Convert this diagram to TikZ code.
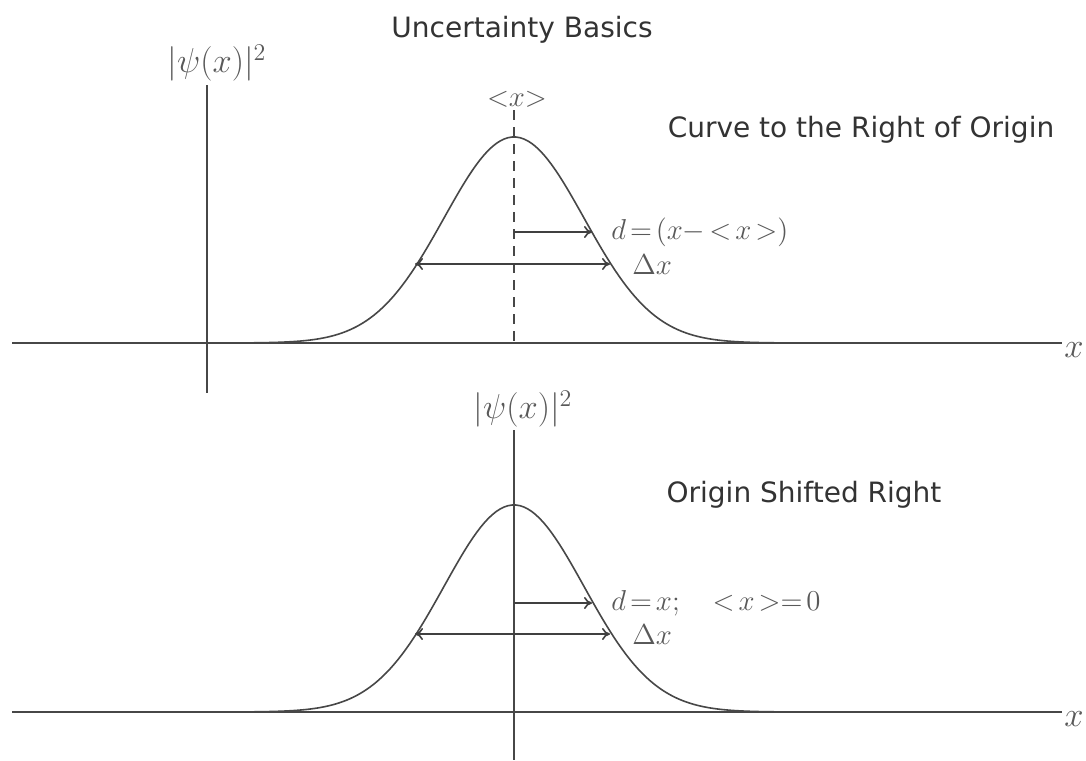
\documentclass[tikz,border=0pt]{standalone}
\usepackage{fontspec}
\setsansfont{DejaVu Sans}
\usetikzlibrary{arrows.meta}
\newcommand{\tightmath}{\thickmuskip=2.5mu\relax\medmuskip=2mu\relax}
\tikzset{
  axisline/.style={draw=black!72, line width=1.1pt},
  curveline/.style={draw=black!72, line width=0.8pt},
  meanline/.style={draw=black!72, line width=0.8pt, dash pattern=on 5pt off 3.5pt},
  arrowline/.style={draw=black!75, line width=0.8pt, -{To[length=4pt,width=6pt]}},
  dblarrow/.style={draw=black!75, line width=0.8pt, {To[length=4pt,width=6pt]}-{To[length=4pt,width=6pt]}},
  sanslabel/.style={text=black!80, font=\sffamily\fontsize{14}{16}\selectfont, inner sep=0pt},
  mathlabel/.style={text=black!65, inner sep=0pt, font=\fontsize{14}{16}\selectfont\tightmath},
  biglabel/.style={text=black!65, inner sep=0pt, font=\fontsize{18}{20}\selectfont},
  axlabel/.style={text=black!65, inner sep=0pt, font=\fontsize{16}{18}\selectfont},
}
\begin{document}
\begin{tikzpicture}[x=0.5pt,y=-0.5pt]
\useasboundingbox[fill=white] (0,0) rectangle (1086,760);
% title
\node[sanslabel] (title) at (522,30) {Uncertainty Basics};
% ---------- top panel ----------
\coordinate (tAxL) at (12,343);
\coordinate (tAxR) at (1062,343);
\coordinate (tVtop) at (207,85);
\coordinate (tVbot) at (207,393);
\draw[axisline] (tAxL) -- (tAxR);
\draw[axisline] (tVtop) -- (tVbot);
\node[biglabel, anchor=south] (tpsi) at (217,82) {$|\psi(x)|^2$};
\node[axlabel, anchor=west] (tx) at (1064,350) {$x$};
\draw[curveline] plot[domain=43:985, samples=240] (\x, {343-206*exp(-((\x-514)/70)^2/2)});
\coordinate (tMtop) at (514,110);
\coordinate (tMbot) at (514,343);
\draw[meanline] (tMtop) -- (tMbot);
\node[mathlabel] (tmean) at (517,99) {${<}x{>}$};
\coordinate (tDa) at (514,232);
\coordinate (tDb) at (592,232);
\draw[arrowline] (tDa) -- (tDb);
\coordinate (tWa) at (415,264);
\coordinate (tWb) at (610,264);
\draw[dblarrow] (tWa) -- (tWb);
\node[mathlabel, anchor=west] (tdlab) at (611,232) {$d=(x-<x>)$};
\node[mathlabel, anchor=west] (tdx) at (632,265) {$\Delta x$};
\node[sanslabel] (tcap) at (861,130) {Curve to the Right of Origin};
% ---------- bottom panel ----------
\coordinate (bAxL) at (12,712);
\coordinate (bAxR) at (1062,712);
\coordinate (bVtop) at (514,430);
\coordinate (bVbot) at (514,760);
\draw[axisline] (bAxL) -- (bAxR);
\draw[axisline] (bVtop) -- (bVbot);
\node[biglabel, anchor=south] (bpsi) at (523,428) {$|\psi(x)|^2$};
\node[axlabel, anchor=west] (bx) at (1064,719) {$x$};
\draw[curveline] plot[domain=43:985, samples=240] (\x, {712-207*exp(-((\x-514)/70)^2/2)});
\coordinate (bDa) at (514,603);
\coordinate (bDb) at (592,603);
\draw[arrowline] (bDa) -- (bDb);
\coordinate (bWa) at (415,634);
\coordinate (bWb) at (610,634);
\draw[dblarrow] (bWa) -- (bWb);
\node[mathlabel, anchor=west] (bdlab) at (611,603) {$d=x;\quad <x>=0$};
\node[mathlabel, anchor=west] (bdx) at (632,635) {$\Delta x$};
\node[sanslabel] (bcap) at (804,495) {Origin Shifted Right};
\end{tikzpicture}
\end{document}
